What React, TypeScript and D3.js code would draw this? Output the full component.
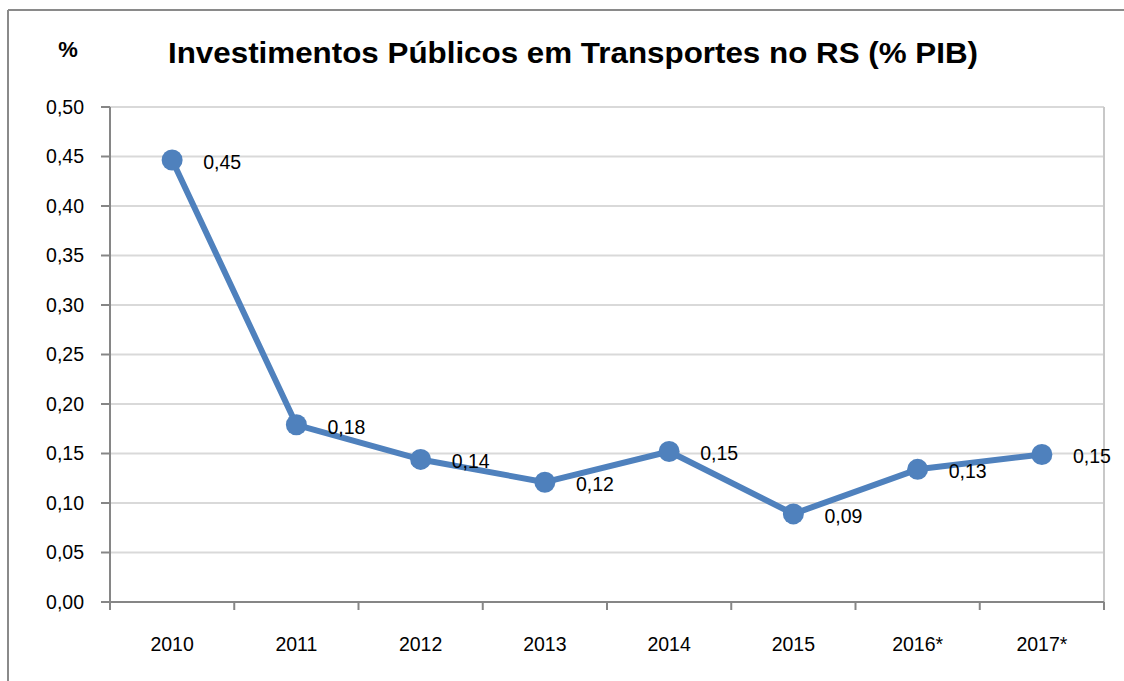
import React from "react";
import * as d3 from "d3";

const categories = ["2010", "2011", "2012", "2013", "2014", "2015", "2016*", "2017*"];
const values = [0.4465, 0.179, 0.144, 0.121, 0.152, 0.089, 0.134, 0.149];
const yTicks = [0, 0.05, 0.1, 0.15, 0.2, 0.25, 0.3, 0.35, 0.4, 0.45, 0.5];
const title = "Investimentos Públicos em Transportes no RS (% PIB)";
const unitLabel = "%";

const W = 1124;
const H = 681;
const FONT = "'Liberation Sans', Arial, sans-serif";

export default function App() {
  const left = 110, right = 1104, top = 107, bottom = 602;
  const x = d3.scaleBand<string>().domain(categories).range([left, right]);
  const y = d3.scaleLinear().domain([0, 0.5]).range([bottom, top]);
  const cx = (c: string) => (x(c) as number) + x.bandwidth() / 2;
  const fmt = (v: number) => d3.format(".2f")(v).replace(".", ",");
  const line = d3
    .line<number>()
    .x((_, i) => cx(categories[i]))
    .y((d) => y(d));
  const edges = categories.map((c) => x(c) as number).concat([right]);
  const fs = 19.5;

  return (
    <svg
      width={W}
      height={H}
      style={{ position: "absolute", left: 0, top: 0, background: "#fff" }}
      fontFamily={FONT}
    >
      <rect x={0} y={0} width={W} height={H} fill="#fff" />
      {/* outer frame */}
      <line x1={8} y1={10} x2={W} y2={10} stroke="#8a8a8a" strokeWidth={2} />
      <line x1={8} y1={10} x2={8} y2={H} stroke="#8a8a8a" strokeWidth={2} />

      {/* title */}
      <text
        x={168}
        y={63}
        fontSize={30}
        fontWeight="bold"
        fill="#000"
        textLength={810}
        lengthAdjust="spacingAndGlyphs"
      >
        {title}
      </text>
      <text x={68} y={57} fontSize={22} fontWeight="bold" textAnchor="middle" fill="#000">
        {unitLabel}
      </text>

      {/* gridlines */}
      {yTicks
        .filter((t) => t > 0)
        .map((t) => (
          <line key={"g" + t} x1={left} x2={right} y1={y(t)} y2={y(t)} stroke="#d9d9d9" strokeWidth={2} />
        ))}
      {/* plot right border */}
      <line x1={right} x2={right} y1={top} y2={bottom} stroke="#c8c8c8" strokeWidth={2} />

      {/* y axis */}
      <line x1={left} x2={left} y1={top} y2={bottom + 1} stroke="#868686" strokeWidth={2} />
      {yTicks.map((t) => (
        <g key={"y" + t}>
          <line x1={left - 9} x2={left} y1={y(t)} y2={y(t)} stroke="#868686" strokeWidth={2} />
          <text x={84} y={y(t)} dy="0.35em" fontSize={fs} textAnchor="end" fill="#000">
            {fmt(t)}
          </text>
        </g>
      ))}

      {/* x axis */}
      <line x1={left} x2={right} y1={bottom} y2={bottom} stroke="#868686" strokeWidth={2} />
      {edges.map((e, i) => (
        <line key={"xt" + i} x1={e} x2={e} y1={bottom} y2={bottom + 8} stroke="#868686" strokeWidth={2} />
      ))}
      {categories.map((c) => (
        <text key={"xl" + c} x={cx(c)} y={651} fontSize={fs} textAnchor="middle" fill="#000">
          {c}
        </text>
      ))}

      {/* series */}
      <path d={line(values) || ""} fill="none" stroke="#4f81bd" strokeWidth={6} strokeLinejoin="round" />
      {values.map((v, i) => (
        <circle key={"p" + i} cx={cx(categories[i])} cy={y(v)} r={10.5} fill="#4f81bd" />
      ))}
      {values.map((v, i) => (
        <text
          key={"l" + i}
          x={cx(categories[i]) + 31}
          y={y(v) + 2}
          dy="0.35em"
          fontSize={fs}
          fill="#000"
        >
          {fmt(v)}
        </text>
      ))}
    </svg>
  );
}
